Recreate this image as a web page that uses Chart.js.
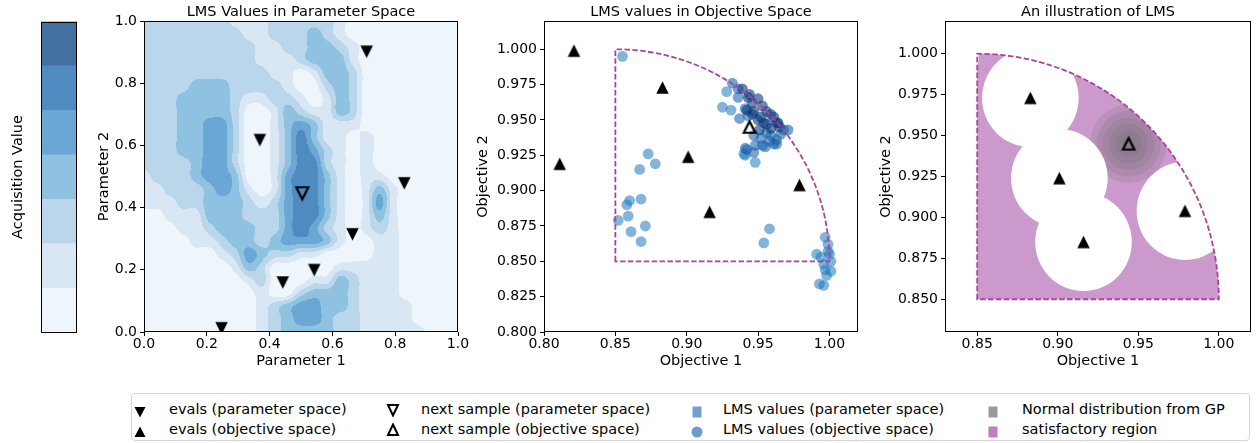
<!DOCTYPE html>
<html>
<head>
<meta charset="utf-8">
<script src="https://cdn.jsdelivr.net/npm/chart.js@4.4.1/dist/chart.umd.min.js"></script>
<style>
  html, body { margin: 0; padding: 0; background: #fff; }
  body { width: 1259px; height: 443px; position: relative; overflow: hidden; font-family: 'DejaVu Sans', sans-serif; }
  canvas { position: absolute; top: 0; }
  #legend { position: absolute; left: 131px; top: 393px; width: 1119px; height: 48px; box-sizing: border-box;
            border: 1px solid #d5d5d5; border-radius: 4px; background: #fff; }
  .lg-text { position: absolute; font-size: 14.5px; line-height: 18px; color: #000; white-space: nowrap; }
  .lg-mark { position: absolute; }
</style>
</head>
<body>
<canvas id="cbar" width="80" height="345" style="left:0px"></canvas>
<canvas id="param" width="380" height="370" style="left:94px"></canvas>
<canvas id="objective" width="400" height="370" style="left:474px"></canvas>
<canvas id="illustration" width="385" height="370" style="left:874px"></canvas>
<div id="legend"></div>

<script>
// ---------- data ----------
const levelColors = ['#eef5fb', '#d9e7f4', '#bad6ea', '#8fc2e1', '#6aa7d4', '#4f8bc1', '#4571a2'];
const cbLevels = [0, 1, 2, 3, 4, 5, 6];

// LMS level on a 25 x 25 grid in parameter space (first row: Parameter 2 = 1.0, first column: Parameter 1 = 0.0)
const lmsGrid = [
    '2222222111222221000000000',
    '2222222211222321000000000',
    '2222222221122332100000000',
    '2222222221112333100000000',
    '2222222222110133200000000',
    '2222333222210023200000000',
    '2223333211221013200000000',
    '2223333200132113200000000',
    '2223344200134311100000000',
    '2223344200135311010000000',
    '2223344200135421010000000',
    '2222344200135521010000000',
    '1222344300145531011000000',
    '1122234310145531013100000',
    '1112233321245531014100000',
    '0011133322245531013100000',
    '0001123332245421012100000',
    '0000112332344431001100000',
    '0000001243221100001100000',
    '0000000132000001111100000',
    '0000000012000113211100000',
    '0000000001002333211100000',
    '0000000001234433211110000',
    '0000000001234432211110000',
    '0000000001233332211111000'
];

const evalParamX = [0.709, 0.369, 0.829, 0.664, 0.542, 0.442, 0.247];
const evalParamY = [0.901, 0.617, 0.478, 0.314, 0.199, 0.159, 0.012];
const nextParamX = [0.504];
const nextParamY = [0.446];

const evalObjX = [0.821, 0.883, 0.811, 0.901, 0.916, 0.979];
const evalObjY = [0.999, 0.973, 0.919, 0.924, 0.885, 0.904];
const nextObjX = [0.944];
const nextObjY = [0.945];

// LMS values mapped into objective space (shade: 0 low, 2 high)
const lmsObjX = [0.855, 0.873, 0.878, 0.867, 0.868, 0.860, 0.858, 0.859, 0.852, 0.871, 0.861, 0.868, 0.958, 0.954,
    0.997, 0.999, 0.999, 0.991, 0.994, 1.000, 1.001, 0.996, 1.001, 0.997, 0.998, 0.993, 0.996,
    0.925, 0.931, 0.928, 0.941, 0.948, 0.940,
    0.932, 0.936, 0.937, 0.942, 0.947, 0.955, 0.961, 0.958, 0.941, 0.948, 0.953, 0.963, 0.971, 0.968, 0.966,
    0.943, 0.941, 0.936, 0.947, 0.956, 0.959, 0.963, 0.952,
    0.939, 0.943, 0.944, 0.946, 0.950, 0.953, 0.956, 0.959, 0.961, 0.964, 0.947, 0.950, 0.954, 0.951,
    0.942, 0.946, 0.952, 0.956, 0.959, 0.963, 0.965];
const lmsObjY = [0.995, 0.926, 0.919, 0.915, 0.894, 0.893, 0.890, 0.882, 0.879, 0.875, 0.871, 0.864, 0.873, 0.863,
    0.867, 0.862, 0.857, 0.855, 0.853, 0.855, 0.850, 0.848, 0.843, 0.844, 0.840, 0.834, 0.833,
    0.959, 0.957, 0.970, 0.925, 0.920, 0.926,
    0.976, 0.972, 0.951, 0.929, 0.927, 0.931, 0.933, 0.935, 0.930, 0.932, 0.932, 0.933, 0.943, 0.943, 0.940,
    0.953, 0.958, 0.966, 0.939, 0.941, 0.939, 0.936, 0.937,
    0.972, 0.966, 0.968, 0.962, 0.965, 0.960, 0.956, 0.954, 0.952, 0.948, 0.956, 0.950, 0.948, 0.943,
    0.957, 0.954, 0.952, 0.947, 0.944, 0.948, 0.945];
const lmsObjShade = [0, 0, 0, 0, 0, 0, 0, 0, 0, 0, 0, 0, 0, 0,
    0, 0, 0, 0, 0, 0, 0, 0, 0, 0, 0, 0, 0,
    0, 0, 0, 0, 0, 0,
    1, 1, 1, 1, 1, 1, 1, 1, 1, 1, 1, 1, 1, 1, 1,
    1, 1, 1, 1, 1, 1, 1, 1,
    2, 2, 2, 2, 2, 2, 2, 2, 2, 2, 2, 2, 2, 2,
    2, 2, 2, 2, 2, 2, 2];

// satisfactory region: quarter disc around the reference point
const satRef = [0.85, 0.85];
const satRadius = 0.15;
const exclRadius = 0.03;
const gpRadii = [0.024, 0.020, 0.016, 0.012, 0.008, 0.004];

const paramTicks = [0.0, 0.2, 0.4, 0.6, 0.8, 1.0];
const objXTicks = [0.80, 0.85, 0.90, 0.95, 1.00];
const objYTicks = [0.800, 0.825, 0.850, 0.875, 0.900, 0.925, 0.950, 0.975, 1.000];
const illXTicks = [0.85, 0.90, 0.95, 1.00];
const illYTicks = [0.850, 0.875, 0.900, 0.925, 0.950, 0.975, 1.000];

// ---------- helpers ----------
Chart.defaults.font.family = "'DejaVu Sans', sans-serif";
Chart.defaults.font.size = 14;
Chart.defaults.color = '#000';

const labelFont = { size: 14.5, weight: 'normal' };
const shadeColors = ['rgba(30,120,190,0.55)', 'rgba(24,98,172,0.58)', 'rgba(10,56,124,0.6)'];
const satLine = '#a9449f';
const satFill = 'rgba(128,0,128,0.4)';

function triMarker(up, size, hollow) {
    const s = Math.ceil(size) + 8;
    const c = document.createElement('canvas');
    c.width = s; c.height = s;
    const g = c.getContext('2d');
    const h = size / 2, m = s / 2;
    g.beginPath();
    if (up) { g.moveTo(m, m - h); g.lineTo(m + h, m + h); g.lineTo(m - h, m + h); }
    else { g.moveTo(m - h, m - h); g.lineTo(m + h, m - h); g.lineTo(m, m + h); }
    g.closePath();
    if (hollow) { g.lineWidth = 2.2; g.strokeStyle = '#000'; g.stroke(); }
    else { g.fillStyle = '#000'; g.fill(); }
    return c;
}
const downTri = triMarker(false, 12.5, false);
const upTri = triMarker(true, 12.5, false);
const downHollow = triMarker(false, 12, true);
const upHollow = triMarker(true, 11.5, true);

function hexToRgb(hex) {
    const n = parseInt(hex.slice(1), 16);
    return [(n >> 16) & 255, (n >> 8) & 255, n & 255];
}

function points(xs, ys) {
    return xs.map((x, i) => ({ x: x, y: ys[i] }));
}

function axis(min, max, ticks, digits, title, isY, width, titlePad) {
    return {
        type: 'linear', min: min, max: max,
        afterBuildTicks: a => { a.ticks = ticks.map(v => ({ value: v })); },
        afterFit: s => { if (isY) s.width = width; else s.height = width; },
        ticks: { autoSkip: false, maxRotation: 0, padding: isY ? 3 : 0, callback: v => Number(v).toFixed(digits) },
        grid: { display: true, drawOnChartArea: false, drawTicks: true, tickLength: 4, color: '#000', lineWidth: 1 },
        border: { display: false },
        title: { display: true, text: title, font: labelFont,
                 padding: isY ? { top: titlePad, bottom: 0 } : { top: 0, bottom: titlePad } }
    };
}

function panelTitle(text) {
    return { display: true, text: text, fullSize: false, padding: { top: 3.6, bottom: 0 },
             font: labelFont, color: '#000' };
}

const framePlugin = {
    id: 'frame',
    afterDatasetsDraw(chart) {
        const { ctx, chartArea: a } = chart;
        ctx.save();
        ctx.strokeStyle = '#000';
        ctx.lineWidth = 1;
        ctx.strokeRect(Math.round(a.left) + 0.5, Math.round(a.top) + 0.5,
                       Math.round(a.right) - Math.round(a.left) - 1, Math.round(a.bottom) - Math.round(a.top) - 1);
        ctx.restore();
    }
};

// path of the satisfactory region in pixel space
function satPath(ctx, x, y) {
    const ox = x.getPixelForValue(satRef[0]);
    const oy = y.getPixelForValue(satRef[1]);
    const rx = x.getPixelForValue(satRef[0] + satRadius) - ox;
    const ry = oy - y.getPixelForValue(satRef[1] + satRadius);
    ctx.beginPath();
    ctx.moveTo(ox, oy);
    ctx.lineTo(ox, oy - ry);
    ctx.ellipse(ox, oy, rx, ry, 0, -Math.PI / 2, 0, false);
    ctx.closePath();
}

function strokeSat(ctx, x, y) {
    ctx.save();
    satPath(ctx, x, y);
    ctx.setLineDash([5.5, 2.4]);
    ctx.lineWidth = 1.8;
    ctx.strokeStyle = satLine;
    ctx.stroke();
    ctx.restore();
}

function dataEllipse(ctx, x, y, cx, cy, r) {
    const px = x.getPixelForValue(cx), py = y.getPixelForValue(cy);
    const rx = x.getPixelForValue(cx + r) - px;
    const ry = py - y.getPixelForValue(cy + r);
    ctx.beginPath();
    ctx.ellipse(px, py, rx, ry, 0, 0, Math.PI * 2);
}

// Catmull-Rom weights, used to draw smooth filled contours between grid nodes
function crWeights(t) {
    const t2 = t * t, t3 = t2 * t;
    return [(-t3 + 2 * t2 - t) / 2, (3 * t3 - 5 * t2 + 2) / 2, (-3 * t3 + 4 * t2 + t) / 2, (t3 - t2) / 2];
}

// filled contours of the LMS grid, drawn into the plot area through the scales
const contourPlugin = {
    id: 'contour',
    beforeDatasetsDraw(chart) {
        const { ctx, scales: { x, y } } = chart;
        const left = Math.round(x.getPixelForValue(0)), right = Math.round(x.getPixelForValue(1));
        const top = Math.round(y.getPixelForValue(1)), bottom = Math.round(y.getPixelForValue(0));
        const w = right - left, h = bottom - top;
        const rows = lmsGrid.length, cols = lmsGrid[0].length;
        const vals = lmsGrid.map(r => r.split('').map(Number));
        const at = (j, i) => vals[Math.max(0, Math.min(rows - 1, j))][Math.max(0, Math.min(cols - 1, i))];
        const rgb = levelColors.map(hexToRgb);
        const off = document.createElement('canvas');
        off.width = w; off.height = h;
        const octx = off.getContext('2d');
        const img = octx.createImageData(w, h);
        for (let py = 0; py < h; py++) {
            const gy = (py + 0.5) / h * (rows - 1);
            const j = Math.floor(gy), wy = crWeights(gy - j);
            for (let px = 0; px < w; px++) {
                const gx = (px + 0.5) / w * (cols - 1);
                const i = Math.floor(gx), wx = crWeights(gx - i);
                let v = 0;
                for (let b = 0; b < 4; b++) {
                    let rowV = 0;
                    for (let a = 0; a < 4; a++) rowV += wx[a] * at(j - 1 + b, i - 1 + a);
                    v += wy[b] * rowV;
                }
                const lvl = Math.max(0, Math.min(rgb.length - 1, Math.round(v)));
                const k = (py * w + px) * 4;
                img.data[k] = rgb[lvl][0];
                img.data[k + 1] = rgb[lvl][1];
                img.data[k + 2] = rgb[lvl][2];
                img.data[k + 3] = 255;
            }
        }
        octx.putImageData(img, 0, 0);
        ctx.drawImage(off, left, top);
    }
};

// dashed satisfactory region over the LMS points
const objectiveRegionPlugin = {
    id: 'objRegion',
    afterDatasetDraw(chart, args) {
        if (args.index !== 2) return;
        const { ctx, chartArea: a, scales: { x, y } } = chart;
        ctx.save();
        ctx.beginPath(); ctx.rect(a.left, a.top, a.width, a.height); ctx.clip();
        strokeSat(ctx, x, y);
        ctx.restore();
    }
};

// satisfactory region, GP normal distribution and excluded circles
const illustrationPlugin = {
    id: 'illRegion',
    beforeDatasetsDraw(chart) {
        const { ctx, chartArea: a, scales: { x, y } } = chart;
        ctx.save();
        ctx.beginPath(); ctx.rect(a.left, a.top, a.width, a.height); ctx.clip();

        ctx.save();
        satPath(ctx, x, y);
        ctx.fillStyle = satFill;
        ctx.fill();
        ctx.clip();
        gpRadii.forEach(r => {
            dataEllipse(ctx, x, y, nextObjX[0], nextObjY[0], r);
            ctx.fillStyle = 'rgba(100,100,100,0.16)';
            ctx.fill();
        });
        ctx.restore();

        evalObjX.forEach((ex, i) => {
            dataEllipse(ctx, x, y, ex, evalObjY[i], exclRadius);
            ctx.fillStyle = '#fff';
            ctx.fill();
        });

        strokeSat(ctx, x, y);
        ctx.restore();
    }
};

const baseOptions = {
    responsive: false,
    animation: false,
    events: [],
    plugins: { legend: { display: false }, tooltip: { enabled: false } }
};

// ---------- colorbar ----------
new Chart(document.getElementById('cbar'), {
    type: 'bar',
    data: {
        labels: [''],
        datasets: cbLevels.map(l => ({
            data: [1], backgroundColor: levelColors[l], borderWidth: 0,
            barPercentage: 1, categoryPercentage: 1
        }))
    },
    options: Object.assign({}, baseOptions, {
        layout: { padding: { top: 21.5, bottom: 12.5, left: 0, right: 3 } },
        scales: {
            x: { display: false, stacked: true },
            y: {
                stacked: true, min: 0, max: cbLevels.length,
                ticks: { display: false }, grid: { display: false }, border: { display: false },
                afterFit: s => { s.width = 41; },
                title: { display: true, text: 'Acquisition Value', font: labelFont, padding: { top: 9.6, bottom: 0 } }
            }
        }
    }),
    plugins: [framePlugin]
});

// ---------- LMS values in parameter space ----------
new Chart(document.getElementById('param'), {
    type: 'scatter',
    data: {
        datasets: [
            { data: points(nextParamX, nextParamY), pointStyle: downHollow, pointRadius: 7, clip: 0 },
            { data: points(evalParamX, evalParamY), pointStyle: downTri, pointRadius: 7, clip: 0 }
        ]
    },
    options: Object.assign({}, baseOptions, {
        layout: { padding: { top: 0, left: 0, right: 16, bottom: 0 } },
        plugins: Object.assign({}, baseOptions.plugins, { title: panelTitle('LMS Values in Parameter Space') }),
        scales: {
            x: axis(0, 1, paramTicks, 1, 'Parameter 1', false, 38, 0),
            y: axis(0, 1, paramTicks, 1, 'Parameter 2', true, 50, 1.8)
        }
    }),
    plugins: [contourPlugin, framePlugin]
});

// ---------- LMS values in objective space ----------
new Chart(document.getElementById('objective'), {
    type: 'scatter',
    data: {
        datasets: [
            { data: points(nextObjX, nextObjY), pointStyle: upHollow, pointRadius: 7 },
            { data: points(evalObjX, evalObjY), pointStyle: upTri, pointRadius: 7 },
            {
                data: points(lmsObjX, lmsObjY), pointStyle: 'circle', pointRadius: 5.4, borderWidth: 0,
                backgroundColor: lmsObjShade.map(s => shadeColors[s])
            }
        ]
    },
    options: Object.assign({}, baseOptions, {
        layout: { padding: { top: 0, left: 0, right: 16, bottom: 0 } },
        plugins: Object.assign({}, baseOptions.plugins, { title: panelTitle('LMS values in Objective Space') }),
        scales: {
            x: axis(0.8, 1.02, objXTicks, 2, 'Objective 1', false, 38, 0),
            y: axis(0.8, 1.02, objYTicks, 3, 'Objective 2', true, 70, 0.6)
        }
    }),
    plugins: [objectiveRegionPlugin, framePlugin]
});

// ---------- illustration ----------
new Chart(document.getElementById('illustration'), {
    type: 'scatter',
    data: {
        datasets: [
            { data: points(nextObjX, nextObjY), pointStyle: upHollow, pointRadius: 7, clip: 0 },
            { data: points(evalObjX, evalObjY), pointStyle: upTri, pointRadius: 7, clip: 0 }
        ]
    },
    options: Object.assign({}, baseOptions, {
        layout: { padding: { top: 0, left: 0, right: 1, bottom: 0 } },
        plugins: Object.assign({}, baseOptions.plugins, { title: panelTitle('An illustration of LMS') }),
        scales: {
            x: axis(0.83, 1.02, illXTicks, 2, 'Objective 1', false, 38, 0),
            y: axis(0.83, 1.02, illYTicks, 3, 'Objective 2', true, 71, 3.3)
        }
    }),
    plugins: [illustrationPlugin, framePlugin]
});

// ---------- legend ----------
const legendItems = [
    { text: 'evals (parameter space)', mark: 'down', col: 0, row: 0 },
    { text: 'evals (objective space)', mark: 'up', col: 0, row: 1 },
    { text: 'next sample (parameter space)', mark: 'downHollow', col: 1, row: 0 },
    { text: 'next sample (objective space)', mark: 'upHollow', col: 1, row: 1 },
    { text: 'LMS values (parameter space)', mark: 'square', color: '#709fd1', col: 2, row: 0 },
    { text: 'LMS values (objective space)', mark: 'circle', color: '#6f9ccf', col: 2, row: 1 },
    { text: 'Normal distribution from GP', mark: 'square', color: '#9a9a9a', col: 3, row: 0 },
    { text: 'satisfactory region', mark: 'square', color: '#c27fbf', col: 3, row: 1 }
];
const legendMarkX = [8, 261, 565, 861];
const legendTextX = [37, 289, 591, 890];
const legendRowY = [15, 35];

function markerSvg(item) {
    switch (item.mark) {
        case 'down': return '<svg width="12" height="12"><polygon points="0.5,1 11.5,1 6,11.5" fill="#000"/></svg>';
        case 'up': return '<svg width="12" height="12"><polygon points="6,0.5 11.5,11 0.5,11" fill="#000"/></svg>';
        case 'downHollow': return '<svg width="14" height="14"><polygon points="2,2 12,2 7,12.5" fill="none" stroke="#000" stroke-width="2"/></svg>';
        case 'upHollow': return '<svg width="14" height="14"><polygon points="7,1.5 12,12 2,12" fill="none" stroke="#000" stroke-width="2"/></svg>';
        case 'circle': return '<svg width="12" height="12"><circle cx="6" cy="6" r="5.5" fill="' + item.color + '"/></svg>';
        default: return '<svg width="12" height="12"><rect x="1.5" y="0.5" width="9" height="11" fill="' + item.color + '"/></svg>';
    }
}

const legend = document.getElementById('legend');
legendItems.forEach(item => {
    const size = (item.mark === 'downHollow' || item.mark === 'upHollow') ? 14 : 12;
    const mk = document.createElement('div');
    mk.className = 'lg-mark';
    mk.style.left = (legendMarkX[item.col] - size / 2) + 'px';
    mk.style.top = (legendRowY[item.row] - size / 2) + 'px';
    mk.style.width = size + 'px';
    mk.style.height = size + 'px';
    mk.innerHTML = markerSvg(item);
    legend.appendChild(mk);

    const tx = document.createElement('div');
    tx.className = 'lg-text';
    tx.style.left = legendTextX[item.col] + 'px';
    tx.style.top = (legendRowY[item.row] - 9) + 'px';
    tx.textContent = item.text;
    legend.appendChild(tx);
});
</script>
</body>
</html>
